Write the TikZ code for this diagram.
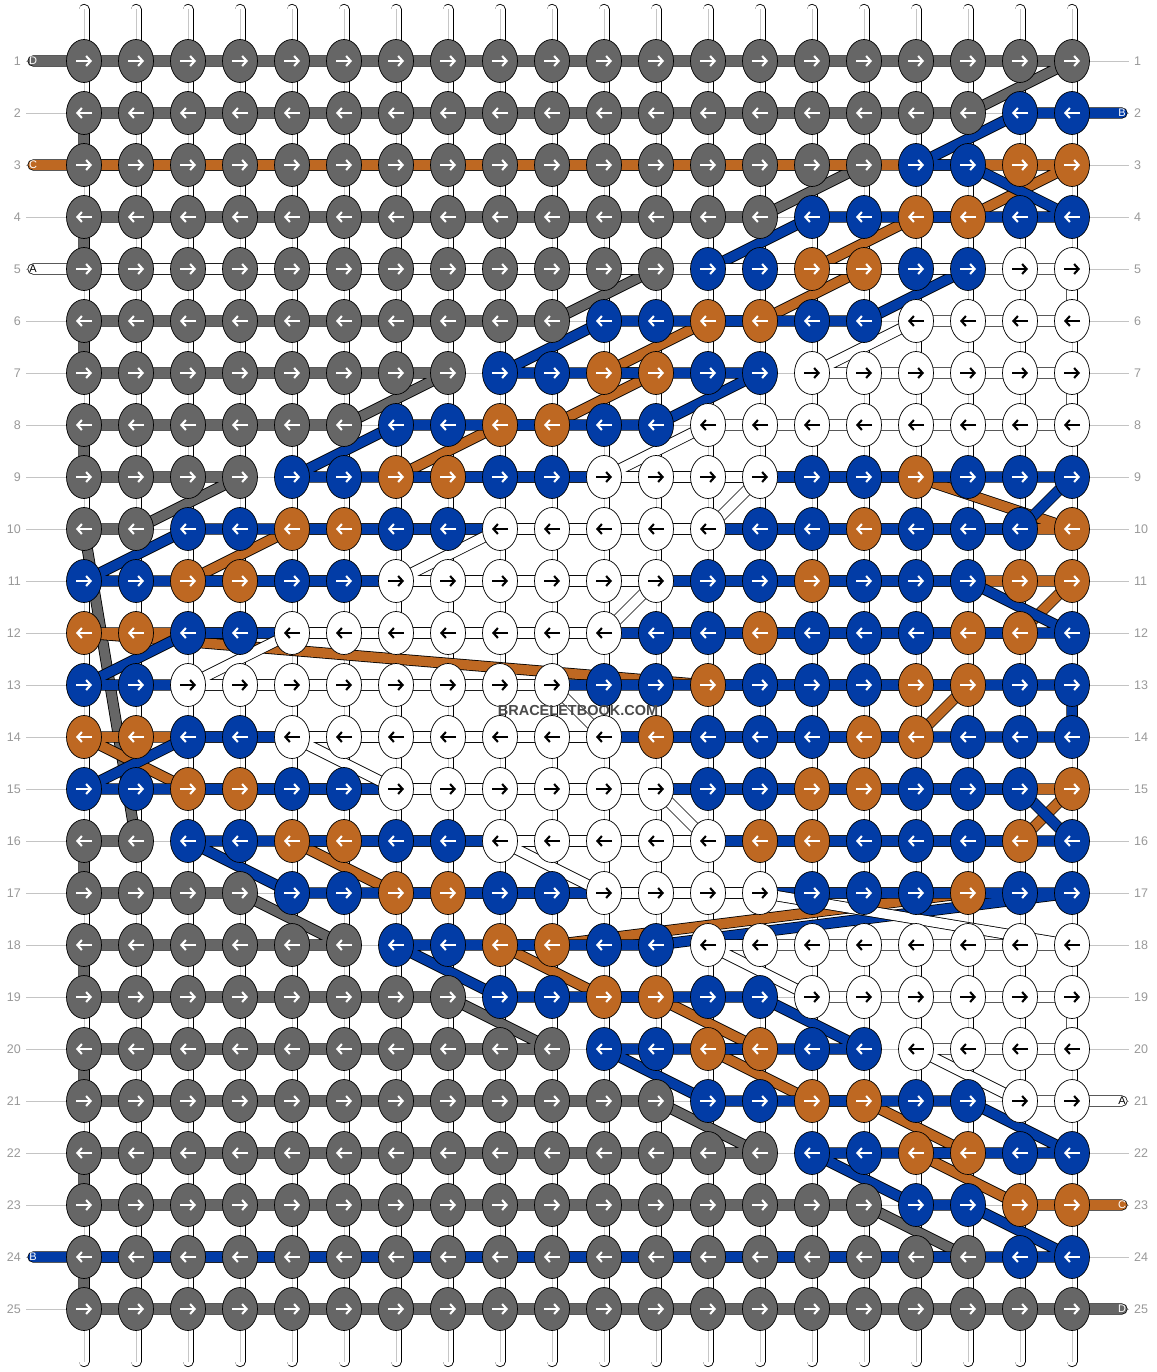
\documentclass[tikz,border=0pt]{standalone}
\usepackage{fontspec}
\setmainfont{Liberation Sans}
\usepackage{xcolor}
\definecolor{threadA}{HTML}{FFFFFF}
\definecolor{threadB}{HTML}{023CA6}
\definecolor{threadC}{HTML}{BE6822}
\definecolor{threadD}{HTML}{666666}
\definecolor{glyphA}{HTML}{000000}
\definecolor{glyphB}{HTML}{FFFFFF}
\definecolor{glyphC}{HTML}{FFFFFF}
\definecolor{glyphD}{HTML}{FFFFFF}
\definecolor{rowgrey}{HTML}{999999}
\definecolor{guidegrey}{HTML}{C4C4C4}
\definecolor{markgrey}{HTML}{4A4A4A}
\usepackage{tikz}
\usetikzlibrary{shapes.geometric,arrows.meta,backgrounds}

\tikzset{
  knot/.style={ellipse, draw=black, line width=0.7pt, fill=thread#1,
    minimum width=35pt, minimum height=43pt, inner sep=0pt},
  glyph/.style={line width=2.1pt, draw=glyph#1, -{Straight Barb[length=4.5pt,width=10pt]}},
  thread/.style={line width=0.8pt, draw=black, double=thread#1, double distance=9.6pt,
    line cap=round, line join=round},
  basestring/.style={line width=0.8pt, draw=black, double=white, double distance=9.4pt, line cap=round},
  guide/.style={guidegrey, line width=0.8pt},
  rownum/.style={font=\fontsize{12.5}{14}\selectfont, text=rowgrey, inner sep=0pt},
  endlabel/.style={font=\fontsize{11}{13}\selectfont, text=glyph#1, inner sep=0pt},
  watermark/.style={font=\fontsize{14.5}{16}\selectfont\bfseries, text=markgrey, inner sep=1pt}
}

\begin{document}
\begin{tikzpicture}[x=1pt,y=-1pt]
  \useasboundingbox (0,0) rectangle (1156,1372);

  % knots, row by row (A white, B blue, C orange, D grey)
  \foreach \r/\pattern in {
    1/{D,D,D,D,D,D,D,D,D,D,D,D,D,D,D,D,D,D,D,D},
    2/{D,D,D,D,D,D,D,D,D,D,D,D,D,D,D,D,D,D,B,B},
    3/{D,D,D,D,D,D,D,D,D,D,D,D,D,D,D,D,B,B,C,C},
    4/{D,D,D,D,D,D,D,D,D,D,D,D,D,D,B,B,C,C,B,B},
    5/{D,D,D,D,D,D,D,D,D,D,D,D,B,B,C,C,B,B,A,A},
    6/{D,D,D,D,D,D,D,D,D,D,B,B,C,C,B,B,A,A,A,A},
    7/{D,D,D,D,D,D,D,D,B,B,C,C,B,B,A,A,A,A,A,A},
    8/{D,D,D,D,D,D,B,B,C,C,B,B,A,A,A,A,A,A,A,A},
    9/{D,D,D,D,B,B,C,C,B,B,A,A,A,A,B,B,C,B,B,B},
    10/{D,D,B,B,C,C,B,B,A,A,A,A,A,B,B,C,B,B,B,C},
    11/{B,B,C,C,B,B,A,A,A,A,A,A,B,B,C,B,B,B,C,C},
    12/{C,C,B,B,A,A,A,A,A,A,A,B,B,C,B,B,B,C,C,B},
    13/{B,B,A,A,A,A,A,A,A,A,B,B,C,B,B,B,C,C,B,B},
    14/{C,C,B,B,A,A,A,A,A,A,A,C,B,B,B,C,C,B,B,B},
    15/{B,B,C,C,B,B,A,A,A,A,A,A,B,B,C,C,B,B,B,C},
    16/{D,D,B,B,C,C,B,B,A,A,A,A,A,C,C,B,B,B,C,B},
    17/{D,D,D,D,B,B,C,C,B,B,A,A,A,A,B,B,B,C,B,B},
    18/{D,D,D,D,D,D,B,B,C,C,B,B,A,A,A,A,A,A,A,A},
    19/{D,D,D,D,D,D,D,D,B,B,C,C,B,B,A,A,A,A,A,A},
    20/{D,D,D,D,D,D,D,D,D,D,B,B,C,C,B,B,A,A,A,A},
    21/{D,D,D,D,D,D,D,D,D,D,D,D,B,B,C,C,B,B,A,A},
    22/{D,D,D,D,D,D,D,D,D,D,D,D,D,D,B,B,C,C,B,B},
    23/{D,D,D,D,D,D,D,D,D,D,D,D,D,D,D,D,B,B,C,C},
    24/{D,D,D,D,D,D,D,D,D,D,D,D,D,D,D,D,D,D,B,B},
    25/{D,D,D,D,D,D,D,D,D,D,D,D,D,D,D,D,D,D,D,D}}{
    \foreach \k [count=\c] in \pattern {
      \expandafter\xdef\csname kc-\r-\c\endcsname{\k}
      \node[knot=\k] (k-\r-\c) at ({84+52*(\c-1)},{61+52*(\r-1)}) {};
      \ifodd\r\relax
        \draw[glyph=\k] ([xshift=-8pt]k-\r-\c.center) -- ([xshift=8pt]k-\r-\c.center);
      \else
        \draw[glyph=\k] ([xshift=8pt]k-\r-\c.center) -- ([xshift=-8pt]k-\r-\c.center);
      \fi
    }
  }

  % thread ends
  \coordinate (in-D) at (33,61);
  \coordinate (in-B) at (1122,113);
  \coordinate (in-C) at (33,165);
  \coordinate (in-A) at (33,269);
  \coordinate (out-A) at (1122,1101);
  \coordinate (out-C) at (1122,1205);
  \coordinate (out-B) at (33,1257);
  \coordinate (out-D) at (1122,1309);

  % base strings
  \foreach \c in {1,...,20} {
    \coordinate (top-\c) at ({84+52*(\c-1)},9.5);
    \coordinate (bot-\c) at ({84+52*(\c-1)},1361.5);
  }

  \begin{pgfonlayer}{background}
    \fill[white] (0,0) rectangle (1156,1372);
    % row guides
    \foreach \r in {1,...,25}
      \draw[guide] (26,{61+52*(\r-1)}) -- (1129,{61+52*(\r-1)});
    \foreach \c in {1,...,20} {
      \draw[basestring] (top-\c) -- (bot-\c);
      \draw[gray!45, line width=0.8pt] (top-\c) -- (bot-\c);
    }
    % threads, knot to knot in working order
    \foreach \s in {D,C,B,A} {
      \xdef\threadpath{(in-\s)}
      \foreach \r in {1,...,25} {
        \ifodd\r\relax \def\colorder{1,...,20}\else \def\colorder{20,19,...,1}\fi
        \foreach \c in \colorder {
          \edef\here{\csname kc-\r-\c\endcsname}
          \edef\want{\s}
          \ifx\here\want \xdef\threadpath{\threadpath -- (k-\r-\c.center)}\fi
        }
      }
      \draw[thread=\s] \threadpath -- (out-\s);
    }
  \end{pgfonlayer}

  % end labels
  \node[endlabel=D] (lab-in-D) at (in-D) {D};
  \node[endlabel=B] (lab-in-B) at (in-B) {B};
  \node[endlabel=C] (lab-in-C) at (in-C) {C};
  \node[endlabel=A] (lab-in-A) at (in-A) {A};
  \node[endlabel=A] (lab-out-A) at (out-A) {A};
  \node[endlabel=C] (lab-out-C) at (out-C) {C};
  \node[endlabel=B] (lab-out-B) at (out-B) {B};
  \node[endlabel=D] (lab-out-D) at (out-D) {D};

  % row numbers
  \foreach \r in {1,...,25} {
    \node[rownum, anchor=east] (num-l-\r) at (21,{61+52*(\r-1)}) {\r};
    \node[rownum, anchor=west] (num-r-\r) at (1134,{61+52*(\r-1)}) {\r};
  }

  \node[watermark] (mark) at (578,711) {BRACELETBOOK.COM};
\end{tikzpicture}
\end{document}
